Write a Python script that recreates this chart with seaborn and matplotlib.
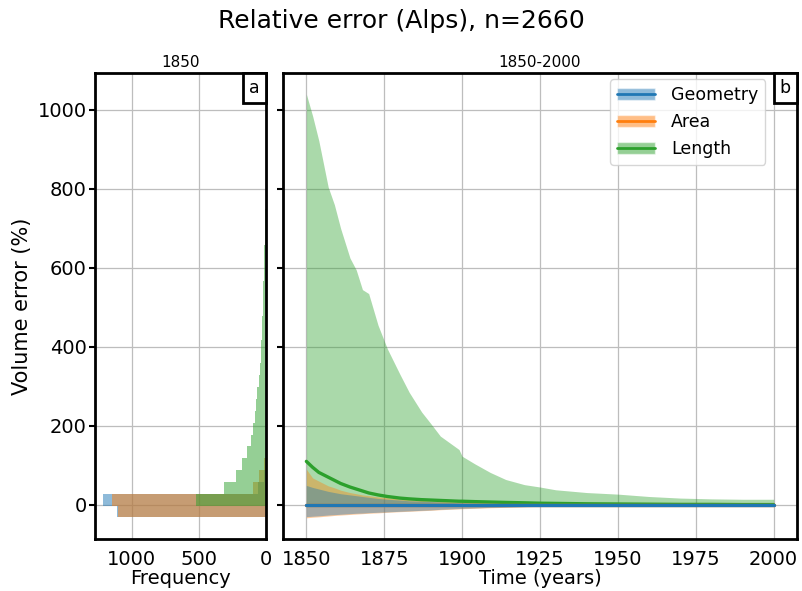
import numpy as np
import pandas as pd
import matplotlib
matplotlib.use("Agg")
import matplotlib.pyplot as plt
import seaborn as sns
from matplotlib.patches import Patch
from matplotlib.lines import Line2D
from matplotlib.offsetbox import AnchoredText

# ---- data ----
# histogram of volume error in 1850 (counts per 30 % bin)
bin_edges = [-32, -2, 28, 58, 88, 118, 148, 178, 208, 238, 268, 298, 328, 358, 388,
             418, 448, 478, 508, 538, 568, 598, 628, 658, 688, 718, 748]
hist_geometry = [1110, 1212, 60, 15, 0, 0, 0, 0, 0, 0, 0, 0, 0, 0, 0,
                 0, 0, 0, 0, 0, 0, 0, 0, 0, 0, 0]
hist_area = [1105, 1145, 100, 49, 15, 0, 0, 0, 0, 0, 0, 0, 0, 0, 0,
             0, 0, 0, 0, 0, 0, 0, 0, 0, 0, 0]
hist_length = [0, 522, 316, 226, 182, 138, 115, 100, 81, 75, 65, 55, 47, 40, 35,
               30, 27, 24, 22, 20, 17, 14, 12, 11, 8, 10]

# error envelope and median over time
years = [1850, 1852, 1854, 1857, 1859, 1861, 1864, 1866, 1868, 1870, 1873, 1876, 1880,
         1883, 1887, 1890, 1893, 1896, 1899, 1900, 1904, 1909, 1914, 1920, 1925, 1930,
         1940, 1950, 1960, 1970, 1980, 1990, 2000]
length_hi = [1040, 985, 922, 805, 760, 700, 625, 595, 545, 535, 455, 395, 331,
             285, 235, 205, 174, 157, 140, 123, 104, 82, 64, 51, 45, 38,
             31, 27, 21, 17, 15, 14, 14]
length_lo = [0, 0, 0, 0, 0, 0, 0, 0, 0, 0, 0, 0, 0,
             0, 0, 0, 0, 0, 0, 0, 0, 0, 0, 0, 0, 0,
             0, 0, 0, 0, 0, 0, 0]
length_med = [110, 95, 82, 70, 62, 54, 45, 40, 35, 30, 25, 21, 17,
              15, 13, 12, 11, 10, 9, 9, 8, 7, 6, 5, 4, 3.5,
              2.5, 2, 1.5, 1, 1, 0.5, 0.5]
area_hi = [90, 68, 60, 48, 43, 37, 31, 28, 25, 23, 20, 18, 15,
           13, 11, 10, 9, 8, 7, 7, 6, 5, 4, 3, 3, 2,
           2, 1.5, 1, 1, 1, 0.5, 0.5]
area_lo = [-33, -31.5, -30.5, -28.5, -27, -26, -24.5, -23.5, -22.5, -21.5, -20.5, -19, -17.5,
           -16.5, -15, -14, -12.5, -11.5, -10.5, -10, -9, -7.5, -6.5, -5, -4, -3.5,
           -2.5, -2, -1.5, -1, -0.7, -0.4, -0.2]
area_med = [0, 0, 0, 0, 0, 0, 0, 0, 0, 0, 0, 0, 0,
            0, 0, 0, 0, 0, 0, 0, 0, 0, 0, 0, 0, 0,
            0, 0, 0, 0, 0, 0, 0]
geometry_hi = [49, 44, 40, 34, 31, 28, 25, 23, 21, 19, 16, 14, 12,
               10, 9, 8, 7, 6, 5, 5, 4, 3.5, 3, 2.5, 2, 1.5,
               1, 1, 0.5, 0.5, 0.3, 0.2, 0.1]
geometry_lo = [-30, -29, -28, -26, -25, -24, -22.5, -21.5, -21, -20, -19, -18, -16.5,
               -15.5, -14, -13, -11.5, -10.5, -9.5, -9, -8, -6.5, -5.5, -4.5, -3.5, -3,
               -2, -1.5, -1, -0.7, -0.5, -0.3, -0.1]
geometry_med = [0, 0, 0, 0, 0, 0, 0, 0, 0, 0, 0, 0, 0,
                0, 0, 0, 0, 0, 0, 0, 0, 0, 0, 0, 0, 0,
                0, 0, 0, 0, 0, 0, 0]

labels = ["Geometry", "Area", "Length"]
colors = ["#1f77b4", "#ff7f0e", "#2ca02c"]

sns.set_theme(style="whitegrid")
plt.rcParams["font.family"] = ["DejaVu Sans"]
plt.rcParams["grid.color"] = "#bdbdbd"
plt.rcParams["grid.linewidth"] = 0.9
for key in ["text.color", "axes.labelcolor", "xtick.color", "ytick.color"]:
    plt.rcParams[key] = "black"

fig = plt.figure(figsize=(8.02, 5.91), dpi=100)
axL = fig.add_axes([95 / 802, 52 / 591, 171 / 802, 466 / 591])
axR = fig.add_axes([283 / 802, 52 / 591, 514 / 802, 466 / 591], sharey=axL)

# ---- left: histograms ----
centers = [(a + b) / 2 for a, b in zip(bin_edges[:-1], bin_edges[1:])]
for name, counts, c in zip(labels, [hist_geometry, hist_area, hist_length], colors):
    hdf = pd.DataFrame({"err": centers, "n": counts})
    sns.histplot(data=hdf, y="err", weights="n", bins=bin_edges, color=c,
                 alpha=0.5, linewidth=0, ax=axL)
axL.invert_xaxis()
axL.set_xticks([1000, 500, 0])
axL.set_xlabel("Frequency", fontsize=14, labelpad=0)
axL.set_ylabel("Volume error (%)", fontsize=15)
axL.set_title("1850", fontsize=11, pad=4)

# ---- right: envelopes over time ----
series = {
    "Geometry": (geometry_lo, geometry_hi, geometry_med),
    "Area": (area_lo, area_hi, area_med),
    "Length": (length_lo, length_hi, length_med),
}
for name, c in reversed(list(zip(labels, colors))):
    lo, hi, _ = series[name]
    axR.fill_between(years, lo, hi, color=c, alpha=0.4, linewidth=0)
for name, c in reversed(list(zip(labels, colors))):
    _, _, med = series[name]
    sns.lineplot(x=years, y=med, color=c, linewidth=2.4, ax=axR, zorder=3)

axR.set_xticks([1850, 1875, 1900, 1925, 1950, 1975, 2000])
axR.set_xlabel("Time (years)", fontsize=14, labelpad=0)
axR.set_title("1850-2000", fontsize=11, pad=4)
axR.tick_params(axis="y", labelleft=False)
axL.set_yticks([0, 200, 400, 600, 800, 1000])

handles = [(Patch(facecolor=c, alpha=0.5), Line2D([], [], color=c, lw=2)) for c in colors]
axR.legend(handles, labels, loc="upper right", bbox_to_anchor=(0.955, 1.005),
           fontsize=12.5, handlelength=2.2, handletextpad=0.9, framealpha=0.8,
           labelcolor="black", borderaxespad=0.5)

for ax, letter in [(axL, "a"), (axR, "b")]:
    for s in ax.spines.values():
        s.set_color("black")
        s.set_linewidth(2)
    ax.tick_params(axis="both", labelsize=14, pad=2)
    ax.tick_params(axis="y", left=True, length=4, width=1.5, color="black")
    at = AnchoredText(letter, loc="upper right", prop=dict(size=12.5),
                      frameon=True, pad=0.35, borderpad=0)
    at.patch.set_boxstyle("square,pad=0")
    at.patch.set_linewidth(2)
    at.patch.set_edgecolor("black")
    ax.add_artist(at)

fig.suptitle("Relative error (Alps), n=2660", fontsize=18, y=0.985)
fig.savefig("out.png", dpi=100)
